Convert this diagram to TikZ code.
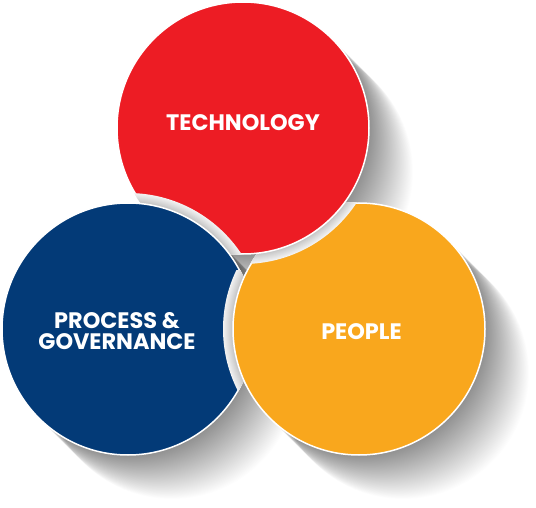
\documentclass[tikz,border=0pt]{standalone}
\usepackage{fontspec}
\setmainfont{Poppins}
\definecolor{cRed}{HTML}{ED1C24}
\definecolor{cBlue}{HTML}{033A77}
\definecolor{cOrange}{HTML}{F9A71D}
\newcommand\myR{126}
\newcommand\myband[1]{%
  \foreach \i/\g in {10/5,9/7,8/9,7/11,6/13,5/15,4/17,3/19,2/21,1/22}{%
    \fill[black!\g] (#1) circle[radius=\myR+\i];}}
\tikzset{
  disc/.style={draw=white, line width=1.5pt},
  lbl/.style={text=white, inner sep=0pt, font=\bfseries\fontsize{22.4}{20.5}\selectfont},
  shade layer/.style={fill=black, opacity=0.006}
}
\begin{document}
\begin{tikzpicture}[x=1pt,y=-1pt]
\useasboundingbox[fill=white] (0,0) rectangle (536,508);
\coordinate (cr) at (243,128);
\coordinate (cb) at (128,329);
\coordinate (co) at (359,329);
% long soft shadows toward lower right
\foreach \c in {cr,cb,co}{
  \foreach \k in {1,...,55}{
    \fill[shade layer] ([shift={(0.8*\k,0.8*\k)}]\c) circle[radius=\myR];
  }
}
% orange (bottom of red)
\filldraw[disc, fill=cOrange] (co) circle[radius=\myR];
% red over orange
\begin{scope}
  \clip (co) circle[radius=\myR+0.75];
  \myband{cr}
\end{scope}
\filldraw[disc, fill=cRed] (cr) circle[radius=\myR];
% blue over red
\begin{scope}
  \clip (cr) circle[radius=\myR+0.75];
  \myband{cb}
\end{scope}
\filldraw[disc, fill=cBlue] (cb) circle[radius=\myR];
% orange over blue
\begin{scope}
  \clip (200,270) rectangle (300,395);
  \begin{scope}
    \clip (cb) circle[radius=\myR+0.75];
    \myband{co}
  \end{scope}
  \clip (cb) circle[radius=\myR+6];
  \filldraw[disc, fill=cOrange] (co) circle[radius=\myR];
\end{scope}
% labels
\node[lbl, anchor=base] (tech) at (243,131) {TECHNOLOGY};
\node[lbl, anchor=base] (people) at (361.5,339) {PEOPLE};
\node[lbl, align=center] (proc) at (117,331) {PROCESS \&\\GOVERNANCE};
\end{tikzpicture}
\end{document}
